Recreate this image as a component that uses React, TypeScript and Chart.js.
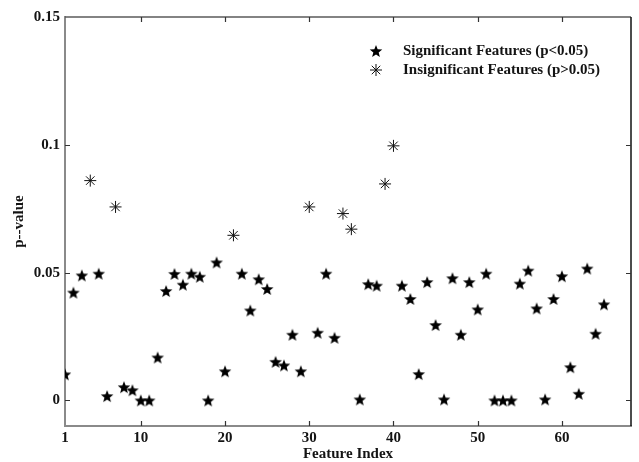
import React, { useEffect, useRef } from "react";
import { Chart, registerables } from "chart.js";

Chart.register(...registerables);

// ---- data ----
const featureIndex = [
  1, 2, 3, 4, 5, 6, 7, 8, 9, 10, 11, 12, 13, 14, 15, 16, 17, 18, 19, 20,
  21, 22, 23, 24, 25, 26, 27, 28, 29, 30, 31, 32, 33, 34, 35, 36, 37, 38, 39, 40,
  41, 42, 43, 44, 45, 46, 47, 48, 49, 50, 51, 52, 53, 54, 55, 56, 57, 58, 59, 60,
  61, 62, 63, 64, 65,
];
const pValues = [
  0.0102, 0.0422, 0.0489, 0.086, 0.0496, 0.0017, 0.0757, 0.0052, 0.004, 0.0,
  0.0, 0.0168, 0.0428, 0.0495, 0.0453, 0.0496, 0.0484, 0.0, 0.054, 0.0114,
  0.0646, 0.0496, 0.0352, 0.0474, 0.0436, 0.0151, 0.0137, 0.0257, 0.0114, 0.0757,
  0.0265, 0.0496, 0.0245, 0.0731, 0.067, 0.0004, 0.0455, 0.0449, 0.0847, 0.0996,
  0.0449, 0.0397, 0.0103, 0.0463, 0.0295, 0.0004, 0.0478, 0.0257, 0.0463, 0.0356,
  0.0496, 0.0, 0.0, 0.0, 0.0457, 0.0508, 0.036, 0.0004, 0.0397, 0.0486,
  0.013, 0.0026, 0.0516, 0.0261, 0.0376,
];
const insignificantIdx = [4, 7, 21, 30, 34, 35, 39, 40];
const xTicks = [1, 10, 20, 30, 40, 50, 60];
const yTicks = [0, 0.05, 0.1, 0.15];
const yTickLabels = ["0", "0.05", "0.1", "0.15"];
const legendLabels = [
  "Significant Features (p<0.05)",
  "Insignificant Features (p>0.05)",
];
const xTitle = "Feature Index";
const yTitle = "p--value";

const FONT = '"Liberation Serif", "Times New Roman", serif';
const TEXT = "#141414";

function makeStar(): HTMLCanvasElement {
  const c = document.createElement("canvas");
  const s = 14;
  c.width = s;
  c.height = s;
  const ctx = c.getContext("2d")!;
  const cx = s / 2;
  const cy = s / 2 + 0.6;
  const R = 6.6;
  const r = 2.8;
  ctx.beginPath();
  for (let i = 0; i < 10; i++) {
    const rad = i % 2 === 0 ? R : r;
    const a = -Math.PI / 2 + (i * Math.PI) / 5;
    const x = cx + rad * Math.cos(a);
    const y = cy + rad * Math.sin(a);
    if (i === 0) ctx.moveTo(x, y);
    else ctx.lineTo(x, y);
  }
  ctx.closePath();
  ctx.fillStyle = "#000";
  ctx.fill();
  return c;
}

function drawAsterisk(ctx: CanvasRenderingContext2D, x: number, y: number, r: number) {
  const d = Math.cos(Math.PI / 4) * r;
  ctx.save();
  ctx.strokeStyle = "#111";
  ctx.lineWidth = 1;
  ctx.beginPath();
  ctx.moveTo(x - r, y);
  ctx.lineTo(x + r, y);
  ctx.moveTo(x, y - r);
  ctx.lineTo(x, y + r);
  ctx.moveTo(x - d, y - d);
  ctx.lineTo(x + d, y + d);
  ctx.moveTo(x - d, y + d);
  ctx.lineTo(x + d, y - d);
  ctx.stroke();
  ctx.restore();
}

export default function App() {
  const ref = useRef<HTMLCanvasElement | null>(null);

  useEffect(() => {
    if (!ref.current) return;
    const star = makeStar();

    const sigData: { x: number; y: number }[] = [];
    const insigData: { x: number; y: number }[] = [];
    featureIndex.forEach((fi, i) => {
      const pt = { x: fi, y: pValues[i] };
      if (insignificantIdx.includes(fi)) insigData.push(pt);
      else sigData.push(pt);
    });

    const framePlugin = {
      id: "frameTicksLegend",
      afterDraw(chart: any) {
        const { ctx, chartArea } = chart;
        const { left, right, top, bottom } = chartArea;
        const xs = chart.scales.x;
        const ys = chart.scales.y;
        ctx.save();
        // top border
        ctx.strokeStyle = "#5a5a5a";
        ctx.lineWidth = 1.5;
        ctx.beginPath();
        ctx.moveTo(left, top);
        ctx.lineTo(right, top);
        ctx.stroke();
        // right border
        ctx.strokeStyle = "#111";
        ctx.lineWidth = 1.5;
        ctx.beginPath();
        ctx.moveTo(right, top);
        ctx.lineTo(right, bottom);
        ctx.stroke();
        // inward ticks
        const tl = 5;
        ctx.strokeStyle = "#333";
        ctx.lineWidth = 1.2;
        ctx.beginPath();
        xTicks.forEach((v) => {
          if (v === xTicks[0]) return;
          const px = Math.round(xs.getPixelForValue(v)) + 0.5;
          ctx.moveTo(px, bottom);
          ctx.lineTo(px, bottom - tl);
          ctx.moveTo(px, top);
          ctx.lineTo(px, top + tl);
        });
        yTicks.forEach((v) => {
          if (v === yTicks[yTicks.length - 1]) return;
          const py = Math.round(ys.getPixelForValue(v)) + 0.5;
          ctx.moveTo(left, py);
          ctx.lineTo(left + tl, py);
          ctx.moveTo(right, py);
          ctx.lineTo(right - tl, py);
        });
        ctx.stroke();
        // legend
        const lx = 376;
        const ly = [51, 70];
        ctx.drawImage(star, lx - star.width / 2, ly[0] - star.height / 2);
        drawAsterisk(ctx, lx, ly[1], 6);
        ctx.fillStyle = TEXT;
        ctx.font = `bold 15px ${FONT}`;
        ctx.textBaseline = "middle";
        ctx.textAlign = "left";
        ctx.fillText(legendLabels[0], 403, ly[0]);
        ctx.fillText(legendLabels[1], 403, ly[1]);
        ctx.restore();
      },
    };

    const chart = new Chart(ref.current, {
      type: "scatter",
      data: {
        datasets: [
          {
            label: legendLabels[0],
            data: sigData,
            pointStyle: star as any,
            pointRadius: 6,
            backgroundColor: "#000",
            borderColor: "#000",
          },
          {
            label: legendLabels[1],
            data: insigData,
            pointStyle: "star",
            pointRadius: 6,
            borderWidth: 1,
            borderColor: "#111",
            backgroundColor: "#111",
          },
        ],
      },
      options: {
        responsive: false,
        animation: false,
        layout: { padding: { left: 0, top: 17, right: 8, bottom: 0 } },
        plugins: {
          legend: { display: false },
          tooltip: { enabled: false },
        },
        scales: {
          x: {
            type: "linear",
            min: 1,
            max: 68.2,
            afterBuildTicks: (s: any) => {
              s.ticks = xTicks.map((v) => ({ value: v }));
            },
            afterFit: (s: any) => {
              s.height = 36;
            },
            ticks: {
              padding: 3,
              color: TEXT,
              font: { family: FONT, size: 15, weight: "bold" },
              maxRotation: 0,
              callback: (v: any) => String(v),
            },
            grid: { display: true, drawOnChartArea: false, drawTicks: false },
            border: { display: true, color: "#8a8a8a", width: 2 },
            title: {
              display: true,
              text: xTitle,
              color: TEXT,
              font: { family: FONT, size: 15, weight: "bold" },
              padding: { top: 0, bottom: -1 },
            },
          },
          y: {
            type: "linear",
            min: -0.01,
            max: 0.15,
            afterBuildTicks: (s: any) => {
              s.ticks = yTicks.map((v) => ({ value: v }));
            },
            afterFit: (s: any) => {
              s.width = 65;
            },
            ticks: {
              padding: 5,
              color: TEXT,
              font: { family: FONT, size: 15, weight: "bold" },
              callback: (v: any) => {
                const i = yTicks.findIndex((t) => Math.abs(t - v) < 1e-9);
                return i >= 0 ? yTickLabels[i] : "";
              },
            },
            grid: { display: true, drawOnChartArea: false, drawTicks: false },
            border: { display: true, color: "#8a8a8a", width: 2 },
            title: {
              display: true,
              text: yTitle,
              color: TEXT,
              font: { family: FONT, size: 15, weight: "bold" },
              padding: { top: 10, bottom: 0 },
            },
          },
        },
      },
      plugins: [framePlugin],
    });
    return () => chart.destroy();
  }, []);

  return (
    <div style={{ position: "absolute", left: 0, top: 0, width: 639, height: 462, background: "#fff" }}>
      <canvas ref={ref} width={639} height={462} style={{ display: "block" }} />
    </div>
  );
}
